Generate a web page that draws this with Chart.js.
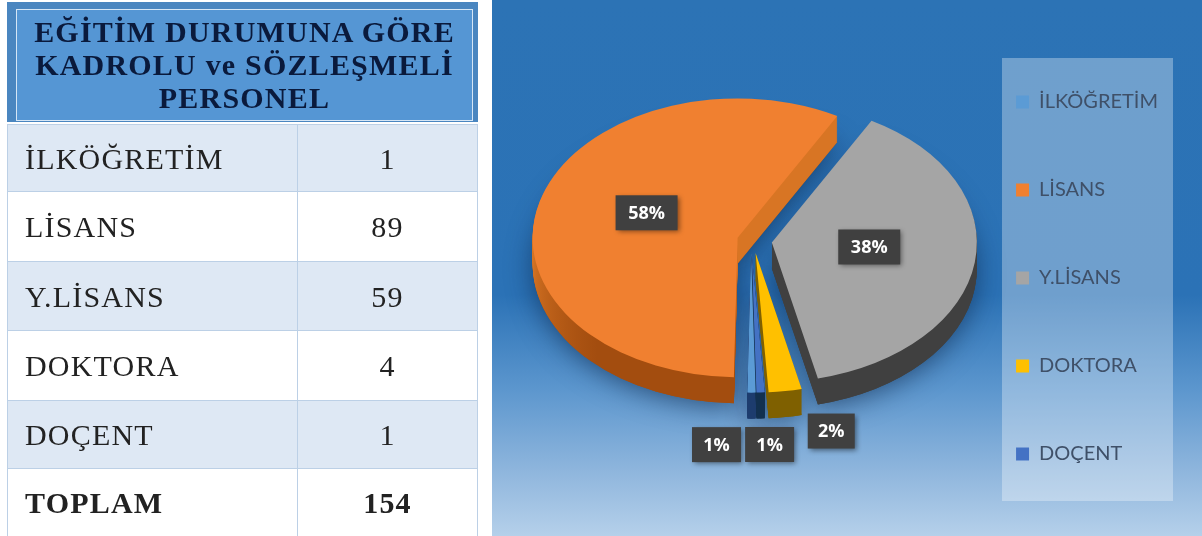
<!DOCTYPE html>
<html lang="tr">
<head>
<meta charset="utf-8">
<script src="https://cdn.jsdelivr.net/npm/chart.js@4"></script>
<style>
html,body{margin:0;padding:0;background:#fff;width:1202px;height:536px;overflow:hidden}
#panel{position:absolute;left:492px;top:0;width:710px;height:536px;
background:linear-gradient(180deg,#2c73b5 0%,#2b72b6 55%,#5a95cd 72%,#8fb6dd 88%,#b5d0ea 100%)}
#wrap{position:absolute;left:492px;top:20px;width:710px;height:516px;filter:blur(.5px)}
#head{position:absolute;left:7px;top:2px;width:471px;height:120px;background:#4a86c0;filter:blur(.4px)}
#head div{position:absolute;left:9px;top:7px;right:5px;bottom:1px;box-sizing:border-box;border:1.5px solid #d5e6f6;background:#5596d4;
color:#0a1a3c;font:bold 30px/33px "Liberation Serif",serif;letter-spacing:1.2px;text-align:center;padding-top:5px;white-space:nowrap}
table{position:absolute;left:7px;top:124px;width:471px;border-collapse:collapse;table-layout:fixed;
font:30px "Liberation Serif",serif;letter-spacing:1.2px;color:#222;filter:blur(.4px)}
td{border:1.5px solid #bcd0e6;padding:1px 0 0 17px}
td.v{text-align:center;padding:1px 0 0 0}
tr.t{background:#dee8f4}
tr.b{font-weight:bold}
</style>
</head>
<body>
<div id="head"><div id="headText"></div></div>
<table id="tbl"><colgroup><col style="width:290px"><col></colgroup><tbody></tbody></table>
<div id="panel"></div>
<div id="wrap"><canvas id="c" width="710" height="516"></canvas></div>
<script>
const titleLines = ['EĞİTİM DURUMUNA GÖRE','KADROLU ve SÖZLEŞMELİ','PERSONEL'];
const categories = ['İLKÖĞRETİM','LİSANS','Y.LİSANS','DOKTORA','DOÇENT'];
const values = [1,89,59,4,1];
const totalLabel = 'TOPLAM';
const totalValue = 154;
const percentLabels = ['1%','58%','38%','2%','1%'];
const faceColors = ['#5b9bd5','#f08030','#a5a5a5','#ffc000','#4472c4'];
const depthColors = [['#1d3c6e','#1d3c6e'],['#d87524','#a34d0f'],['#404040','#404040'],['#7f6000','#7f6000'],['#12304f','#12304f']];
const explodeBy = [18,18,17,18,18];
const explodeShiftX = [-4,0,0,-2,-4];
const labelFactor = [1,.47,.48,1,1];
const labelNudge = [[-35,52],[2,-8],[0,-5],[46,40],[9,52]];
const rowHeights = [67,70,69,70,68,68];

document.getElementById('headText').innerHTML = titleLines.join('<br>');
const tb = document.querySelector('#tbl tbody');
categories.forEach((c,i)=>{
  const tr=document.createElement('tr');
  if(i%2===0) tr.className='t';
  tr.style.height=rowHeights[i]+'px';
  tr.innerHTML='<td>'+c+'</td><td class="v">'+values[i]+'</td>';
  tb.appendChild(tr);
});
const trT=document.createElement('tr');trT.className='b';trT.style.height=rowHeights[5]+'px';
trT.innerHTML='<td>'+totalLabel+'</td><td class="v">'+totalValue+'</td>';tb.appendChild(trT);

const SQUASH = 0.68, DEPTH = 26, PIE_CX = 263, PIE_CY = 221;
const pie3d = {
  id:'pie3d',
  beforeDraw(chart){
    const {ctx}=chart;
    ctx.save();
    ctx.fillStyle='rgba(255,255,255,.32)';
    ctx.fillRect(510,38,171,443);
    ctx.restore();
  },
  afterDatasetsUpdate(chart){
    chart.getDatasetMeta(0).data.forEach((a,i)=>{
      const m=(a.startAngle+a.endAngle)/2;
      a.x=PIE_CX+Math.cos(m)*explodeBy[i]+explodeShiftX[i];
      a.y=PIE_CY+Math.sin(m)*explodeBy[i];
    });
  },
  beforeDatasetsDraw(chart){
    const {ctx}=chart;
    const cy=PIE_CY;
    const arcs=chart.getDatasetMeta(0).data;
    ctx.save();
    ctx.translate(0,cy);ctx.scale(1,SQUASH);ctx.translate(0,-cy);
    const draw=(a,bg)=>{
      const p=Object.create(a);
      p.options=Object.assign({},a.options,{backgroundColor:bg,borderWidth:0});
      Chart.registry.getElement('arc').prototype.draw.call(p,ctx);
    };
    const r=arcs[0].outerRadius;
    ctx.save();
    ctx.shadowColor='rgba(10,30,60,.55)';ctx.shadowBlur=26;ctx.shadowOffsetY=4;
    arcs.forEach((a,i)=>{
      ctx.save();ctx.translate(0,DEPTH/SQUASH);draw(a,depthColors[i][1]);ctx.restore();
    });
    ctx.restore();
    arcs.forEach((a,i)=>{
      const g=ctx.createLinearGradient(0,cy-r,0,cy+r);
      g.addColorStop(0,depthColors[i][0]);g.addColorStop(.5,depthColors[i][0]);g.addColorStop(.85,depthColors[i][1]);g.addColorStop(1,depthColors[i][1]);
      for(let d=DEPTH;d>=1;d--){
        ctx.save();ctx.translate(0,d/SQUASH);draw(a,g);ctx.restore();
      }
    });
  },
  afterDatasetsDraw(chart){
    const {ctx}=chart;
    ctx.restore();
    const cy=PIE_CY;
    chart.getDatasetMeta(0).data.forEach((a,i)=>{
      const m=(a.startAngle+a.endAngle)/2, rr=a.outerRadius*labelFactor[i];
      const x=a.x+Math.cos(m)*rr+labelNudge[i][0];
      const y=cy+(a.y-cy+Math.sin(m)*rr)*SQUASH+labelNudge[i][1];
      const w=percentLabels[i].length>2?62:(i===3?47:49), h=35;
      ctx.save();
      ctx.shadowColor='rgba(0,0,0,.45)';ctx.shadowBlur=5;ctx.shadowOffsetX=2;ctx.shadowOffsetY=2;
      ctx.fillStyle='#404040';
      ctx.fillRect(x-w/2,y-h/2,w,h);
      ctx.restore();
      ctx.save();
      ctx.fillStyle='#fff';ctx.font='bold 18px "Open Sans"';ctx.textAlign='center';ctx.textBaseline='middle';
      ctx.fillText(percentLabels[i],x,y+1);
      ctx.restore();
    });
  }
};

new Chart(document.getElementById('c'),{
  type:'pie',
  plugins:[pie3d],
  data:{labels:categories,datasets:[{data:values,backgroundColor:faceColors,borderWidth:0,radius:205,clip:false}]},
  options:{
    responsive:false,animation:false,events:[],
    rotation:178.7,
    layout:{padding:{left:0,right:34,top:0,bottom:0}},
    plugins:{
      tooltip:{enabled:false},
      legend:{position:'right',labels:{boxWidth:13,boxHeight:13,padding:68,color:'#3f5068',font:{family:'Lato',size:20}}}
    }
  }
});
</script>
</body>
</html>
